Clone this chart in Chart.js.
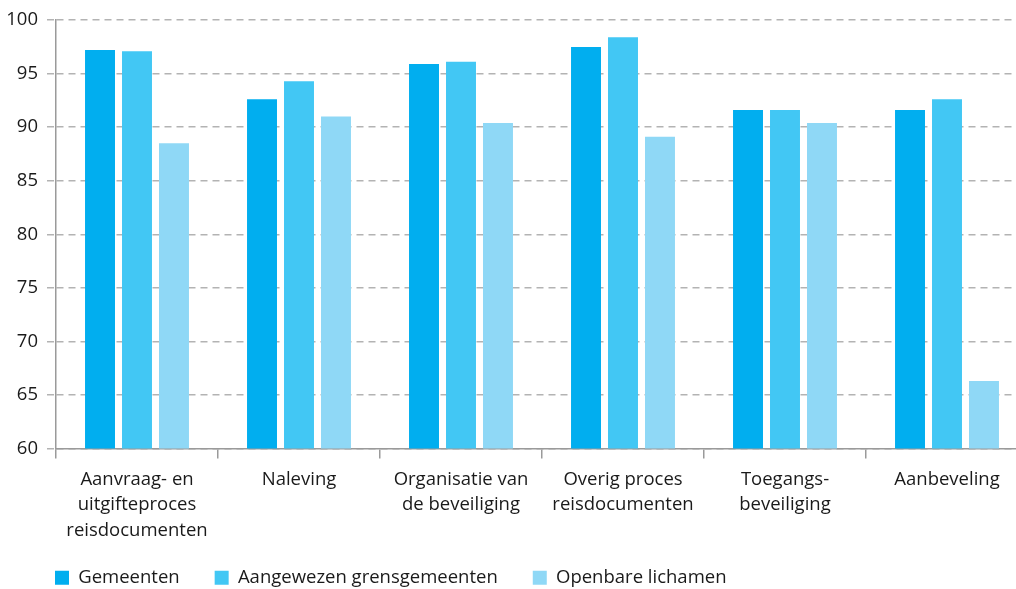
<!DOCTYPE html>
<html>
<head>
<meta charset="utf-8">
<script src="https://cdn.jsdelivr.net/npm/chart.js@4"></script>
<style>
  html, body { margin: 0; padding: 0; background: #fff; overflow: hidden; }
  #wrap { position: relative; width: 1028px; height: 597px; }
</style>
</head>
<body>
<div id="wrap"><canvas id="scoreChart"></canvas></div>
<script>
// categories (multi-line labels)
const categories = [
  ["Aanvraag- en", "uitgifteproces", "reisdocumenten"],
  ["Naleving"],
  ["Organisatie van", "de beveiliging"],
  ["Overig proces", "reisdocumenten"],
  ["Toegangs-", "beveiliging"],
  ["Aanbeveling"]
];

// series values (percent)
const gemeenten = [97.2, 92.6, 95.9, 97.5, 91.6, 91.6];
const grensgemeenten = [97.1, 94.3, 96.1, 98.4, 91.6, 92.6];
const openbareLichamen = [88.5, 91.0, 90.4, 89.1, 90.4, 66.3];

// y axis ticks
const yMin = 60;
const yMax = 100;
const yStep = 5;

const fontFamily = "'Open Sans', 'Noto Sans', sans-serif";
const fontSize = 18.5;
const textColor = "#1a1a1a";
const gridColor = "#b3b3b3";
const axisColor = "#9a9a9a";

// nudge the legend right, and let the 3-line x labels draw past the axis box
const layoutTweaks = {
  id: "layoutTweaks",
  afterLayout(chart) {
    if (chart.legend) {
      chart.legend.left += 20;
      chart.legend.right += 20;
    }
    chart.scales.x.bottom += 15;
  }
};

const ctx = document.getElementById("scoreChart").getContext("2d");

new Chart(ctx, {
  type: "bar",
  data: {
    labels: categories,
    datasets: [
      { label: "Gemeenten", data: gemeenten, backgroundColor: "#01aeef" },
      { label: "Aangewezen grensgemeenten", data: grensgemeenten, backgroundColor: "#42c7f4" },
      { label: "Openbare lichamen", data: openbareLichamen, backgroundColor: "#8fd8f6" }
    ]
  },
  options: {
    responsive: true,
    maintainAspectRatio: false,
    animation: false,
    datasets: {
      bar: { categoryPercentage: 0.685, barPercentage: 0.81 }
    },
    layout: { padding: { top: 8, right: 0, left: 0, bottom: 0 } },
    plugins: {
      legend: {
        position: "bottom",
        align: "start",
        labels: {
          boxWidth: 14,
          boxHeight: 14,
          padding: 35,
          color: textColor,
          font: { family: fontFamily, size: fontSize }
        }
      },
      tooltip: { enabled: false }
    },
    scales: {
      x: {
        grid: {
          drawOnChartArea: false,
          offset: true,
          tickLength: 10,
          color: axisColor,
          lineWidth: 1.5
        },
        border: { color: axisColor, width: 1.5 },
        ticks: {
          color: textColor,
          font: { family: fontFamily, size: fontSize, lineHeight: 1.38 },
          maxRotation: 0,
          autoSkip: false,
          padding: 8
        },
        afterFit: (scale) => { scale.height = 85; }
      },
      y: {
        min: yMin,
        max: yMax,
        grid: {
          color: gridColor,
          lineWidth: 1.5,
          tickLength: 9,
          tickColor: gridColor,
          tickBorderDash: [7, 5]
        },
        // in v4 border.dash sets the dash of the grid lines
        border: { color: axisColor, width: 1.5, dash: [7, 5] },
        ticks: {
          stepSize: yStep,
          color: textColor,
          font: { family: fontFamily, size: fontSize },
          padding: 9
        },
        afterFit: (scale) => { scale.width = 56; }
      }
    }
  },
  plugins: [layoutTweaks]
});
</script>
</body>
</html>
